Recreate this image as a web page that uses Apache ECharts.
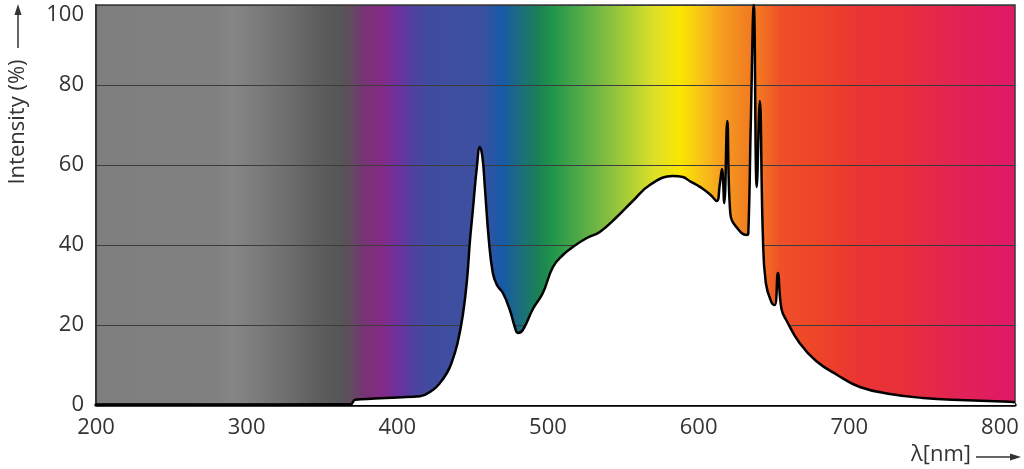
<!DOCTYPE html>
<html>
<head>
<meta charset="utf-8">
<script src="https://cdn.jsdelivr.net/npm/echarts@6/dist/echarts.min.js"></script>
<style>
  html, body { margin: 0; padding: 0; background: #fff; }
  #chart { width: 1024px; height: 469px; }
</style>
</head>
<body>
<div id="chart"></div>
<script>
// spectrum: wavelength (nm) / relative intensity (%)
const wavelengths = [
  200, 300, 369, 372, 385, 400, 415, 423.6, 428.3, 432.9, 436, 440, 443.5, 446.2,
  448.2, 450.2, 452.8, 454.8, 456.5, 458.1, 460.8, 463.4, 466.1, 470.1, 474.7,
  478, 480, 483.3, 490, 496.6, 503.3, 509.9, 516.5, 525.8, 534.4, 545.7, 556.3,
  567.6, 582.9, 589.5, 594, 598.8, 603, 608, 612, 614, 615.5, 617, 619, 621, 625,
  632, 633, 634.6, 636.6, 638.6, 640.6, 642.6, 644.6, 648.6, 650.6, 652.6, 655,
  658.5, 667, 678, 692, 707, 727, 749, 778, 806.5, 810
];
const intensity = [
  0, 0, 0.2, 1.3, 1.6, 1.9, 2.2, 3.75, 5.5, 8, 10.5, 15.5, 22.5, 31,
  41, 49, 59.5, 64.5, 62, 54.5, 41, 33, 30, 28, 23.75,
  19.5, 18, 18.75, 24, 28, 34.5, 37.5, 39.5, 41.75, 43.25, 47, 51,
  55, 57.25, 57, 56, 55, 54, 52.5, 51, 55, 59, 50.5, 71, 48, 44.5,
  42.5, 43, 70, 100, 54.5, 76, 43, 30.5, 25.5, 25, 33, 24,
  21, 15.5, 11, 7.5, 4.5, 2.75, 1.75, 1.2, 0.8, 0.7
];
const xTicks = [200, 300, 400, 500, 600, 700, 800];
const yTicks = [0, 20, 40, 60, 80, 100];

const X_MIN = 200, X_MAX = 810;

// background colour band, stops given in nm
const bandStops = [
  [200, '#7f7f7f'], [279, '#808080'], [292, '#848584'], [312, '#777877'],
  [332, '#6a6b6a'], [345, '#5e5f5e'], [362, '#555655'], [368, '#5e4f5d'],
  [378, '#763474'], [390, '#842a86'], [402, '#6a32a0'], [410, '#5040a0'],
  [422, '#3f4c9f'], [455, '#3d50a0'], [470, '#175aa8'], [481, '#1c6c80'],
  [494, '#1a8254'], [503, '#20954a'], [521, '#50aa48'], [541, '#88c040'],
  [558, '#b8d430'], [571, '#dfe028'], [588, '#fae600'], [601, '#f8c418'],
  [614, '#f5a020'], [631, '#f28020'], [641, '#f27422'], [654, '#ee5028'],
  [681, '#ec4428'], [707, '#ea3434'], [734, '#e8303a'], [753, '#e42a48'],
  [773, '#e22256'], [810, '#e01868']
];

const chart = echarts.init(document.getElementById('chart'));
const font = "'Open Sans', 'Noto Sans', sans-serif";

const gradient = new echarts.graphic.LinearGradient(0, 0, 1, 0,
  bandStops.map(s => ({ offset: (s[0] - X_MIN) / (X_MAX - X_MIN), color: s[1] })));

const option = {
  animation: false,
  grid: {
    left: 96, right: 9, top: 5, bottom: 64,
    outerBoundsMode: 'none',
    containLabel: false,
    show: true,
    backgroundColor: gradient,
    borderColor: '#3a3a3a',
    borderWidth: 1.5
  },
  xAxis: {
    type: 'value',
    min: X_MIN, max: X_MAX, interval: 100,
    axisLine: { show: true, onZero: false, lineStyle: { color: '#000', width: 3.5 } },
    axisTick: { show: false },
    splitLine: { show: false },
    axisLabel: {
      showMaxLabel: false,
      color: '#333', fontSize: 22, fontFamily: font, margin: 12,
      formatter: v => (xTicks.indexOf(v) >= 0 ? String(v) : '')
    }
  },
  yAxis: {
    type: 'value',
    min: 0, max: 100, interval: 20,
    axisLine: { show: true, lineStyle: { color: '#333', width: 2 } },
    axisTick: { show: false },
    splitLine: { show: true, lineStyle: { color: '#3c3c3c', width: 1.2 } },
    axisLabel: {
      color: '#333', fontSize: 22, fontFamily: font, margin: 12,
      formatter: v => {
        if (yTicks.indexOf(v) < 0) return '';
        return v === 100 ? '{top|100}' : String(v);
      },
      rich: {
        top: { fontSize: 22, fontFamily: font, color: '#333', padding: [20, 0, 0, 0] }
      }
    }
  },
  graphic: [
    {
      type: 'text', x: 18, y: 122, rotation: Math.PI / 2,
      style: {
        text: 'Intensity (%)', font: '22px ' + font, fill: '#333',
        textAlign: 'center', textVerticalAlign: 'middle'
      }
    },
    {
      type: 'line', shape: { x1: 18, y1: 48, x2: 18, y2: 12 },
      style: { stroke: '#333', lineWidth: 1.5 }
    },
    {
      type: 'polygon', shape: { points: [[18, 4], [14.5, 15], [21.5, 15]] },
      style: { fill: '#333' }
    },
    {
      type: 'text', x: 941, y: 455,
      style: {
        text: 'λ[nm]', font: '22px ' + font, fill: '#333',
        textAlign: 'center', textVerticalAlign: 'middle'
      }
    },
    {
      type: 'line', shape: { x1: 976, y1: 457, x2: 1012, y2: 457 },
      style: { stroke: '#333', lineWidth: 1.5 }
    },
    {
      type: 'polygon', shape: { points: [[1021, 457], [1010, 453.5], [1010, 460.5]] },
      style: { fill: '#333' }
    }
  ],
  series: [
    {
      type: 'line',
      data: wavelengths.map((w, i) => [w, intensity[i]]),
      showSymbol: false,
      smooth: 0.45,
      lineStyle: { color: '#000', width: 2.5, join: 'round' },
      areaStyle: { color: '#fff', opacity: 1 },
      z: 3
    }
  ]
};

chart.setOption(option);
</script>
</body>
</html>
